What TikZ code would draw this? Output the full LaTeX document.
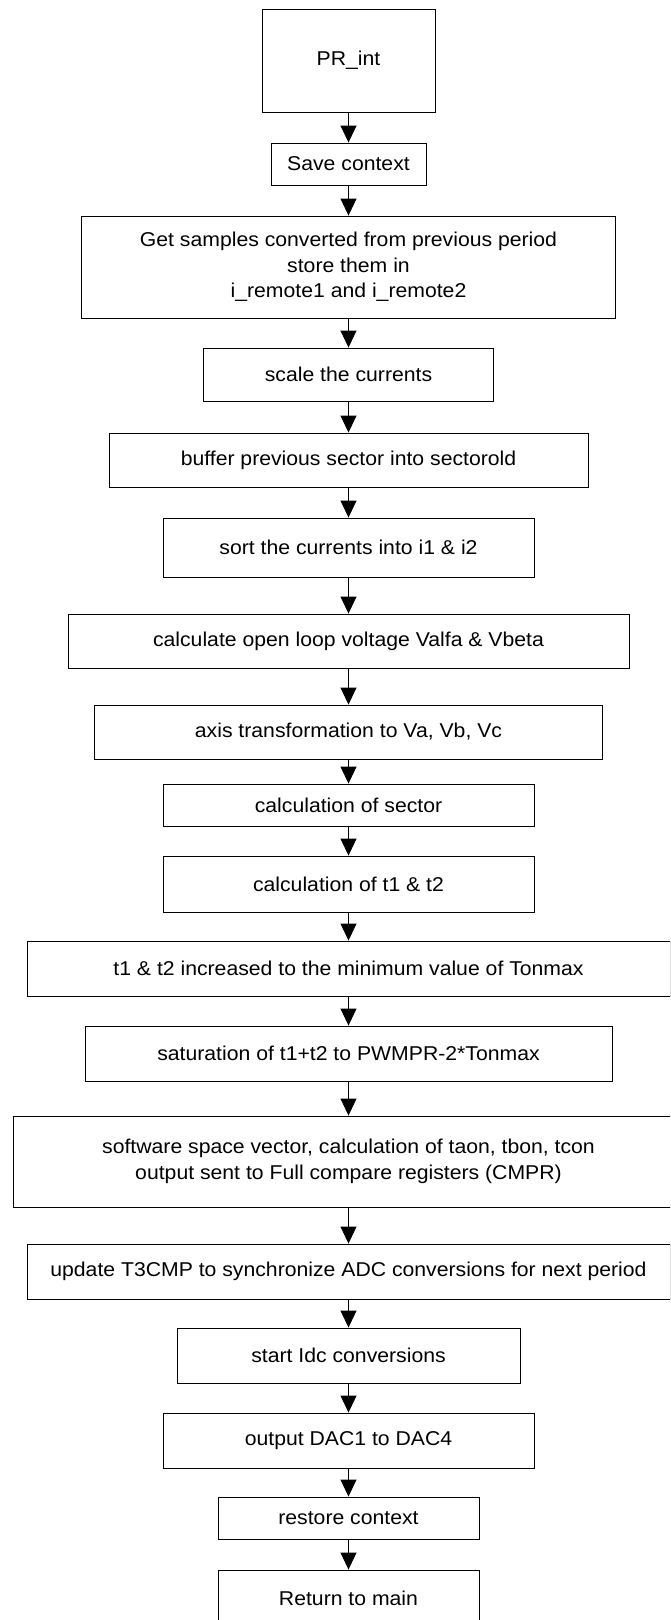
\documentclass[tikz,border=0pt]{standalone}
\usepackage{fontspec}
\setmainfont[FakeStretch=1.06]{Liberation Sans}
\usetikzlibrary{arrows.meta}
\begin{document}
\begin{tikzpicture}[x=1pt,y=1pt,
  box/.style={draw, line width=0.9pt, inner sep=0pt, align=center, font=\fontsize{20}{25.5}\selectfont},
  flow/.style={draw, line width=0.9pt, -{Triangle[length=17pt,width=16pt]}}]
\useasboundingbox (0,0) rectangle (670,-1620);
\clip (0,0) rectangle (670,-1620);
\node[box, minimum width=173pt, minimum height=103pt] (n1) at (348.5,-60.5) {PR\_int};
\node[box, minimum width=155pt, minimum height=42pt] (n2) at (348.5,-164) {Save context};
\node[box, minimum width=534pt, minimum height=102pt] (n3) at (348.5,-267) {Get samples converted from previous period\\store them in \\ i\_remote1 and i\_remote2};
\node[box, minimum width=290pt, minimum height=53pt] (n4) at (348.5,-374.5) {scale the currents};
\node[box, minimum width=479pt, minimum height=54pt] (n5) at (348.5,-460) {buffer previous sector into sectorold};
\node[box, minimum width=371pt, minimum height=59pt] (n6) at (348.5,-547.5) {sort the currents into i1 \& i2};
\node[box, minimum width=561pt, minimum height=54pt] (n7) at (348.5,-641) {calculate open loop voltage Valfa \& Vbeta};
\node[box, minimum width=508pt, minimum height=54pt] (n8) at (348.5,-732) {axis transformation to Va, Vb, Vc};
\node[box, minimum width=371pt, minimum height=42pt] (n9) at (348.5,-805) {calculation of sector};
\node[box, minimum width=371pt, minimum height=56pt] (n10) at (348.5,-884) {calculation of t1 \& t2};
\node[box, minimum width=643pt, minimum height=55pt] (n11) at (348.5,-968.5) {t1 \& t2 increased to the minimum value of Tonmax};
\node[box, minimum width=527pt, minimum height=55pt] (n12) at (348.5,-1053.5) {saturation of t1+t2 to PWMPR-2*Tonmax};
\node[box, minimum width=671pt, minimum height=91pt] (n13) at (348.5,-1161.5) {software space vector, calculation of taon, tbon, tcon\\output sent to Full compare registers (CMPR)};
\node[box, minimum width=643pt, minimum height=55pt] (n14) at (348.5,-1271.5) {update T3CMP to synchronize ADC conversions for next period};
\node[box, minimum width=343pt, minimum height=55pt] (n15) at (348.5,-1355.5) {start Idc conversions};
\node[box, minimum width=371pt, minimum height=55pt] (n16) at (348.5,-1440.5) {output DAC1 to DAC4};
\node[box, minimum width=261pt, minimum height=42pt] (n17) at (348.5,-1518) {restore context};
\node[box, minimum width=261pt, minimum height=56pt] (n18) at (348.5,-1598) {Return to main};
\foreach \a/\b in {n1/n2,n2/n3,n3/n4,n4/n5,n5/n6,n6/n7,n7/n8,n8/n9,n9/n10,n10/n11,n11/n12,n12/n13,n13/n14,n14/n15,n15/n16,n16/n17,n17/n18}
  \draw[flow] (\a.south) -- (\b.north);
\end{tikzpicture}
\end{document}
